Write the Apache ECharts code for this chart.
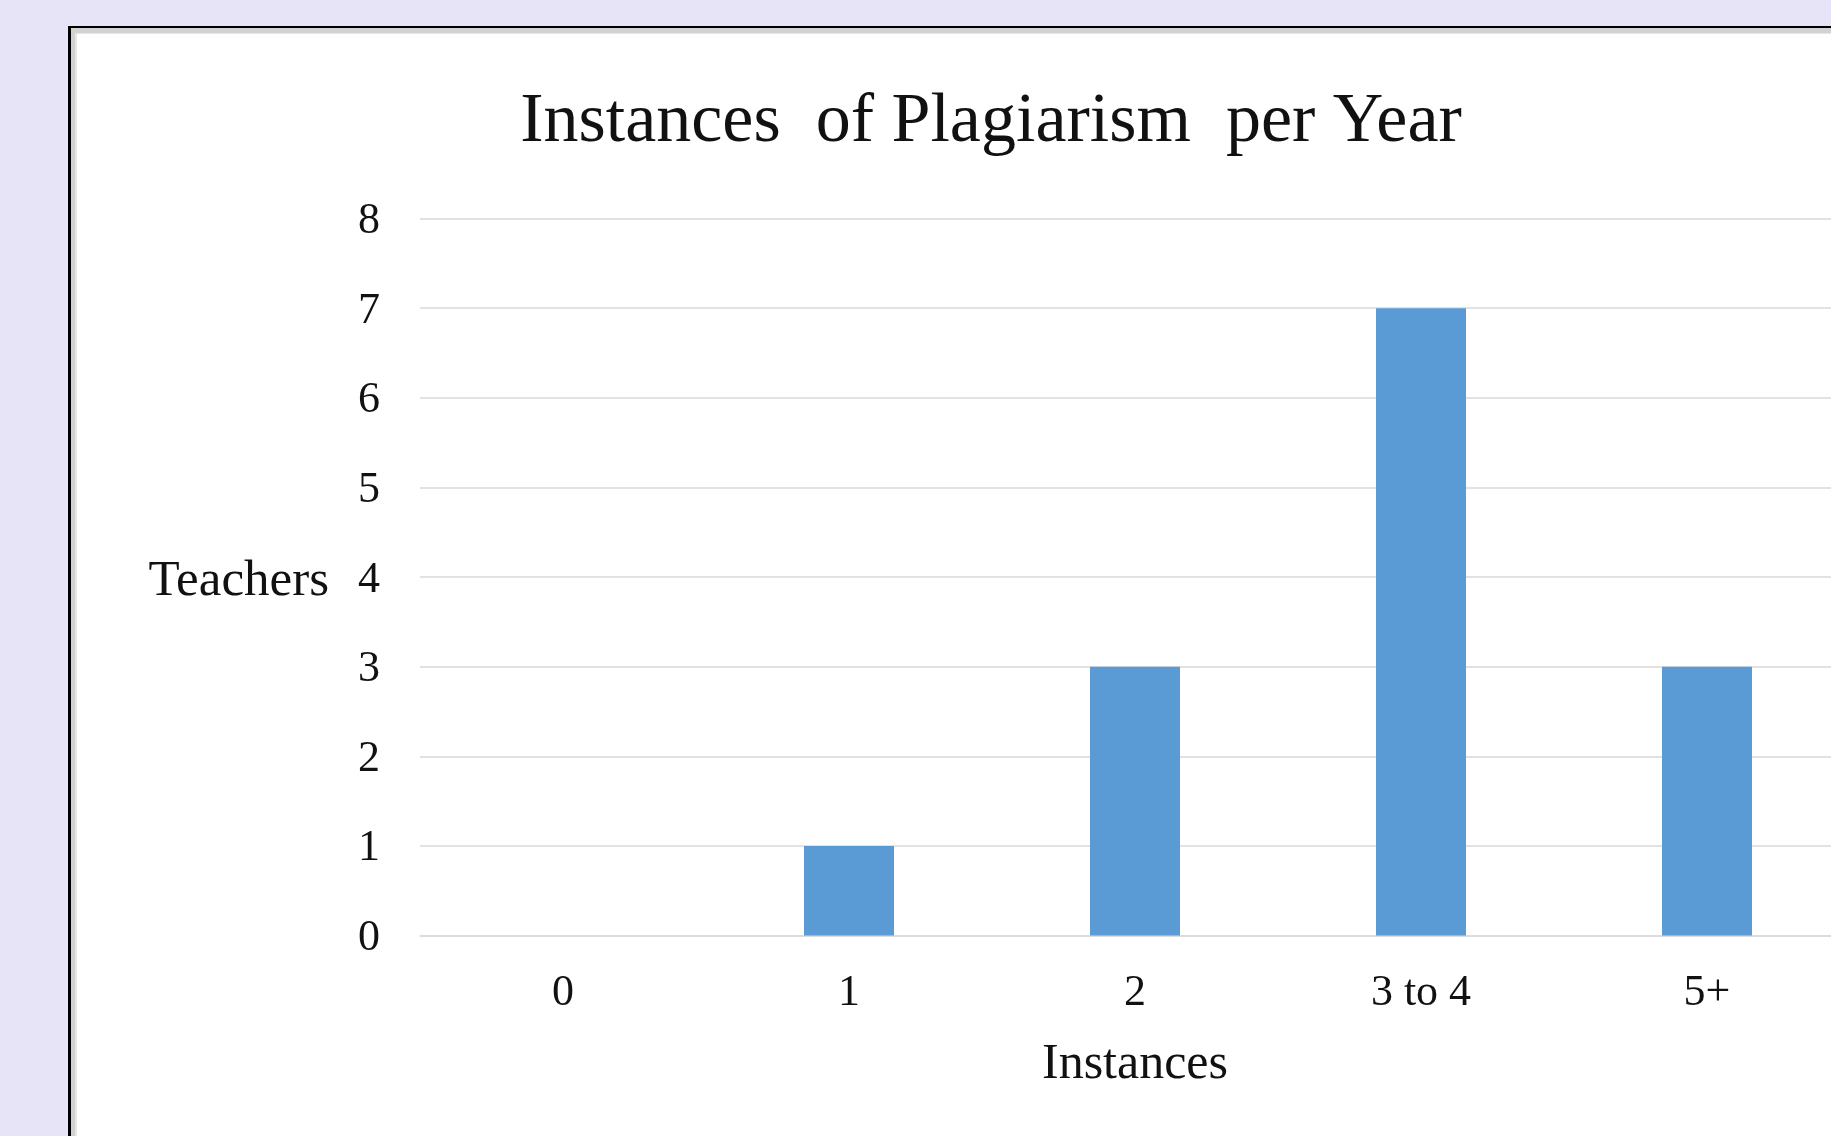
<!DOCTYPE html>
<html>
<head>
<meta charset="utf-8">
<style>
  html, body { margin: 0; padding: 0; background: #E6E4F6; overflow: hidden; }
  #chart { width: 1831px; height: 1136px; }
</style>
<script src="https://cdn.jsdelivr.net/npm/echarts@6/dist/echarts.min.js"></script>
</head>
<body>
<div id="chart"></div>
<script>
// Survey responses: how many teachers report each number of plagiarism cases per year
const categories = ['0', '1', '2', '3 to 4', '5+'];
const teachers = [0, 1, 3, 7, 3];
const yTicks = { min: 0, max: 8, interval: 1 };

const chartTitle = 'Instances  of Plagiarism  per Year';
const xName = 'Instances';
const yName = 'Teachers';

const serif = '"Liberation Serif", "Times New Roman", serif';
const ink = '#111111';
const gridColor = '#D9D9D9';

const chart = echarts.init(document.getElementById('chart'), null, { renderer: 'canvas' });

chart.setOption({
  backgroundColor: '#E6E4F6',
  animation: false,
  // framed white panel that runs off the right and bottom edges
  graphic: [
    { type: 'rect', z: -10, silent: true, shape: { x: 68, y: 26, width: 2000, height: 2000 }, style: { fill: '#000000' } },
    { type: 'rect', z: -9, silent: true, shape: { x: 71, y: 28, width: 2000, height: 2000 }, style: { fill: '#D2D2D2' } },
    { type: 'rect', z: -8, silent: true, shape: { x: 75, y: 33, width: 2000, height: 2000 }, style: { fill: '#E6E6E6' } },
    { type: 'rect', z: -7, silent: true, shape: { x: 77, y: 34, width: 2000, height: 2000 }, style: { fill: '#FFFFFF' } }
  ],
  title: {
    text: chartTitle,
    left: 991,
    top: 88,
    textAlign: 'center',
    padding: 0,
    textStyle: { fontFamily: serif, fontSize: 70, fontWeight: 'normal', color: ink }
  },
  // the plot area is wider than the page: the last category runs past the right edge
  grid: {
    left: 420, width: 1430, top: 218.5, bottom: 200.5,
    containLabel: false,
    outerBoundsMode: 'none'
  },
  xAxis: {
    type: 'category',
    data: categories,
    name: xName,
    nameLocation: 'middle',
    nameGap: 104,
    nameTextStyle: { fontFamily: serif, fontSize: 50, color: ink },
    axisLine: { show: true, lineStyle: { color: gridColor, width: 1.5 } },
    axisTick: { show: false },
    axisLabel: { margin: 36, fontFamily: serif, fontSize: 44, color: ink }
  },
  yAxis: {
    type: 'value',
    min: yTicks.min,
    max: yTicks.max,
    interval: yTicks.interval,
    name: yName,
    nameLocation: 'middle',
    nameRotate: 0,
    nameGap: 91,
    // a short top-aligned line box sets the text slightly below the tick
    nameTextStyle: { fontFamily: serif, fontSize: 51, color: ink, verticalAlign: 'top', lineHeight: 9 },
    axisLine: { show: false },
    axisTick: { show: false },
    axisLabel: { margin: 40, fontFamily: serif, fontSize: 44, color: ink, verticalAlign: 'top', lineHeight: 6 },
    splitLine: { show: true, lineStyle: { color: gridColor, width: 1.5 } }
  },
  series: [{
    type: 'bar',
    data: teachers,
    barWidth: 90,
    itemStyle: { color: '#5B9BD5' }
  }]
});
</script>
</body>
</html>
